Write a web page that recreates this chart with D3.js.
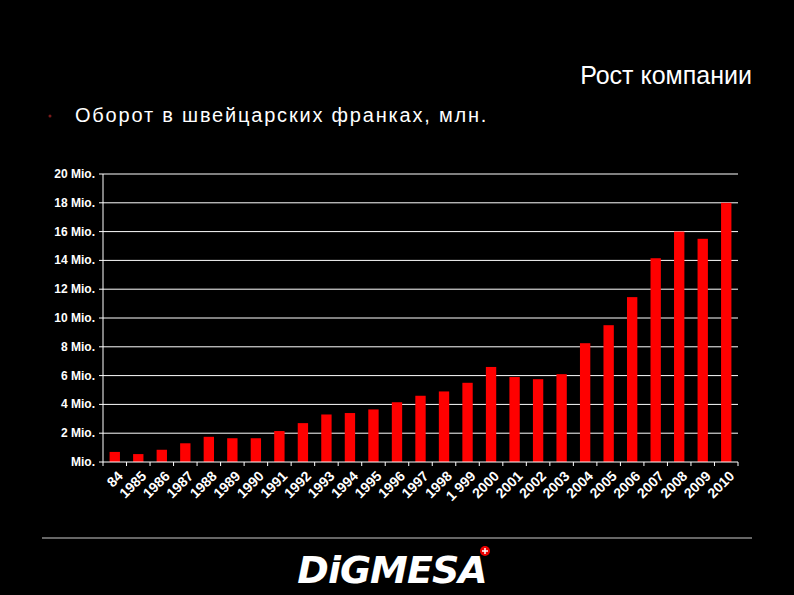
<!DOCTYPE html><html><head><meta charset="utf-8"><script src="https://d3js.org/d3.v7.min.js"></script>
<style>body{margin:0;background:#000}</style></head><body><svg id="c" width="794" height="595"></svg><script>
const years=["84","1985","1986","1987","1988","1989","1990","1991","1992","1993","1994","1995","1996","1997","1998","1 999","2000","2001","2002","2003","2004","2005","2006","2007","2008","2009","2010"];
const values=[0.7,0.55,0.85,1.3,1.75,1.65,1.65,2.15,2.7,3.3,3.4,3.65,4.15,4.6,4.9,5.5,6.6,5.9,5.75,6.1,8.25,9.5,11.45,14.15,16.0,15.5,18.0];
const yTicks=[0,2,4,6,8,10,12,14,16,18,20];
const svg=d3.select("#c");
svg.append("rect").attr("width",794).attr("height",595).attr("fill","#000");
const L=103,R=738,T=174,B=462;
const x=d3.scaleBand().domain(years).range([L,R]).paddingInner(0.56).paddingOuter(0.28);
const y=d3.scaleLinear().domain([0,20]).range([B,T]);
svg.append("g").selectAll("line").data(yTicks.slice(1)).join("line").attr("x1",L).attr("x2",R).attr("y1",d=>y(d)).attr("y2",d=>y(d)).attr("stroke","#fff").attr("stroke-width",1);
svg.append("g").selectAll("text").data(yTicks).join("text").attr("x",L-8).attr("y",d=>y(d)+4).attr("text-anchor","end").attr("fill","#fff").attr("font-family","Liberation Sans,Arial").attr("font-weight","bold").attr("font-size",12).text(d=>d===0?"Mio.":d+" Mio.");
svg.append("g").selectAll("line").data(yTicks).join("line").attr("x1",L-4).attr("x2",L).attr("y1",d=>y(d)).attr("y2",d=>y(d)).attr("stroke","#fff");
svg.append("line").attr("x1",L).attr("x2",L).attr("y1",T).attr("y2",B).attr("stroke","#fff");
svg.append("g").selectAll("rect").data(values).join("rect").attr("x",(d,i)=>x(years[i])).attr("width",x.bandwidth()).attr("y",d=>y(d)).attr("height",d=>B-y(d)).attr("fill","#ff0000");
svg.append("line").attr("x1",L).attr("x2",R).attr("y1",B).attr("y2",B).attr("stroke","#fff");
const step=x.step();
svg.append("g").selectAll("line").data(d3.range(years.length+1)).join("line").attr("x1",i=>L+i*step).attr("x2",i=>L+i*step).attr("y1",B).attr("y2",B+4).attr("stroke","#fff");
svg.append("g").selectAll("text").data(years).join("text").attr("transform",d=>`translate(${x(d)+x.bandwidth()/2+9},${B+15}) rotate(-45)`).attr("text-anchor","end").attr("fill","#fff").attr("font-family","Liberation Sans,Arial").attr("font-weight","bold").attr("font-size",14).text(d=>d);
svg.append("text").attr("x",752).attr("y",84).attr("text-anchor","end").attr("fill","#fff").attr("font-family","Liberation Sans,Arial").attr("font-size",25).text("Рост компании");
svg.append("circle").attr("cx",50).attr("cy",116).attr("r",1.5).attr("fill","#7a1a1a");
svg.append("text").attr("x",75).attr("y",122).attr("fill","#fff").attr("font-family","Liberation Sans,Arial").attr("font-size",20).attr("letter-spacing",1.8).text("Оборот в швейцарских франках, млн.");
svg.append("line").attr("x1",42).attr("x2",752).attr("y1",538).attr("y2",538).attr("stroke","#ccc");
svg.append("text").attr("x",392).attr("y",583).attr("text-anchor","middle").attr("fill","#fff").attr("font-family","DejaVu Sans").attr("font-weight","bold").attr("font-style","italic").attr("font-size",38).attr("letter-spacing",-1).text("DiGMESA");
svg.append("circle").attr("cx",485).attr("cy",551).attr("r",5).attr("fill","#e00");
svg.append("path").attr("d","M482,551h6M485,548v6").attr("stroke","#fff").attr("stroke-width",1.5);
</script></body></html>
